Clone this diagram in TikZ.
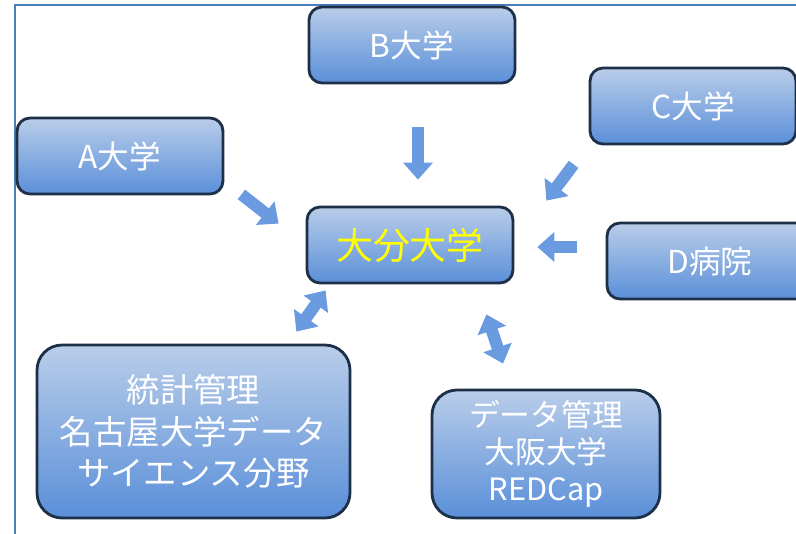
\documentclass[tikz,border=0pt]{standalone}
\usepackage{fontspec}
\setmainfont{Noto Sans CJK JP}
\usetikzlibrary{positioning,arrows.meta}

\definecolor{boxtop}{HTML}{B9CDE9}
\definecolor{boxbot}{HTML}{5A8FD9}
\definecolor{boxline}{HTML}{1E3048}
\definecolor{arrowblue}{HTML}{6A9BE0}
\definecolor{frameblue}{HTML}{4A7EBB}

\tikzset{
  box/.style={rectangle, rounded corners=0.26cm, draw=boxline, line width=1.6pt,
    top color=boxtop, bottom color=boxbot, text=white, align=center,
    minimum width=4.12cm, minimum height=1.52cm, inner sep=0pt,
    font=\fontsize{18}{22}\selectfont},
  bigbox/.style={box, rounded corners=0.5cm},
  fat/.style={draw=arrowblue, line width=0.24cm,
    -{Triangle[width=0.58cm,length=0.34cm]}},
  fatboth/.style={draw=arrowblue, line width=0.24cm,
    {Triangle[width=0.58cm,length=0.34cm]}-{Triangle[width=0.58cm,length=0.34cm]}}
}

\begin{document}
\begin{tikzpicture}[x=0.02cm,y=-0.02cm]
\clip (0,0) rectangle (796,534);
\fill[white] (0,0) rectangle (796,534);
% frame
\draw[frameblue, line width=1.2pt] (15,534) -- (15,5) -- (796,5);

% boxes
\node[box] (B) at (412,45) {B大学};
\node[box] (A) at (120,156) {A大学};
\node[box] (C) at (693,106) {C大学};
\node[box] (D) at (710,261) {D病院};
\node[box, text={rgb,255:red,255;green,255;blue,0}, font=\fontsize{21}{24}\selectfont] (O) at (410,245) {大分大学};
\node[bigbox, minimum width=6.26cm, minimum height=3.46cm, font=\fontsize{19}{23.5}\selectfont] (S) at (193.5,431.5) {統計管理\\名古屋大学データ\\サイエンス分野};
\node[bigbox, minimum width=4.56cm, minimum height=2.56cm, font=\fontsize{17.5}{21}\selectfont] (R) at (546,454) {データ管理\\大阪大学\\REDCap};

% arrows
\draw[fat] ([shift={(17,-1)}]A.south east) -- ([shift={(-27,18)}]O.north west);
\draw[fat] ([shift={(6,43)}]B.south) -- ([shift={(8,-26)}]O.north);
\draw[fat] ([shift={(-15,19)}]C.south west) -- ([shift={(32,-5)}]O.north east);
\draw[fat] ([shift={(-29,-14)}]D.west) -- ([shift={(23,2)}]O.east);
\draw[fatboth] ([shift={(20,6)}]O.south west) -- ([shift={(-55,-12)}]S.north east);
\draw[fatboth] ([shift={(-28,30)}]O.south east) -- ([shift={(-43,-25)}]R.north);
\end{tikzpicture}
\end{document}
